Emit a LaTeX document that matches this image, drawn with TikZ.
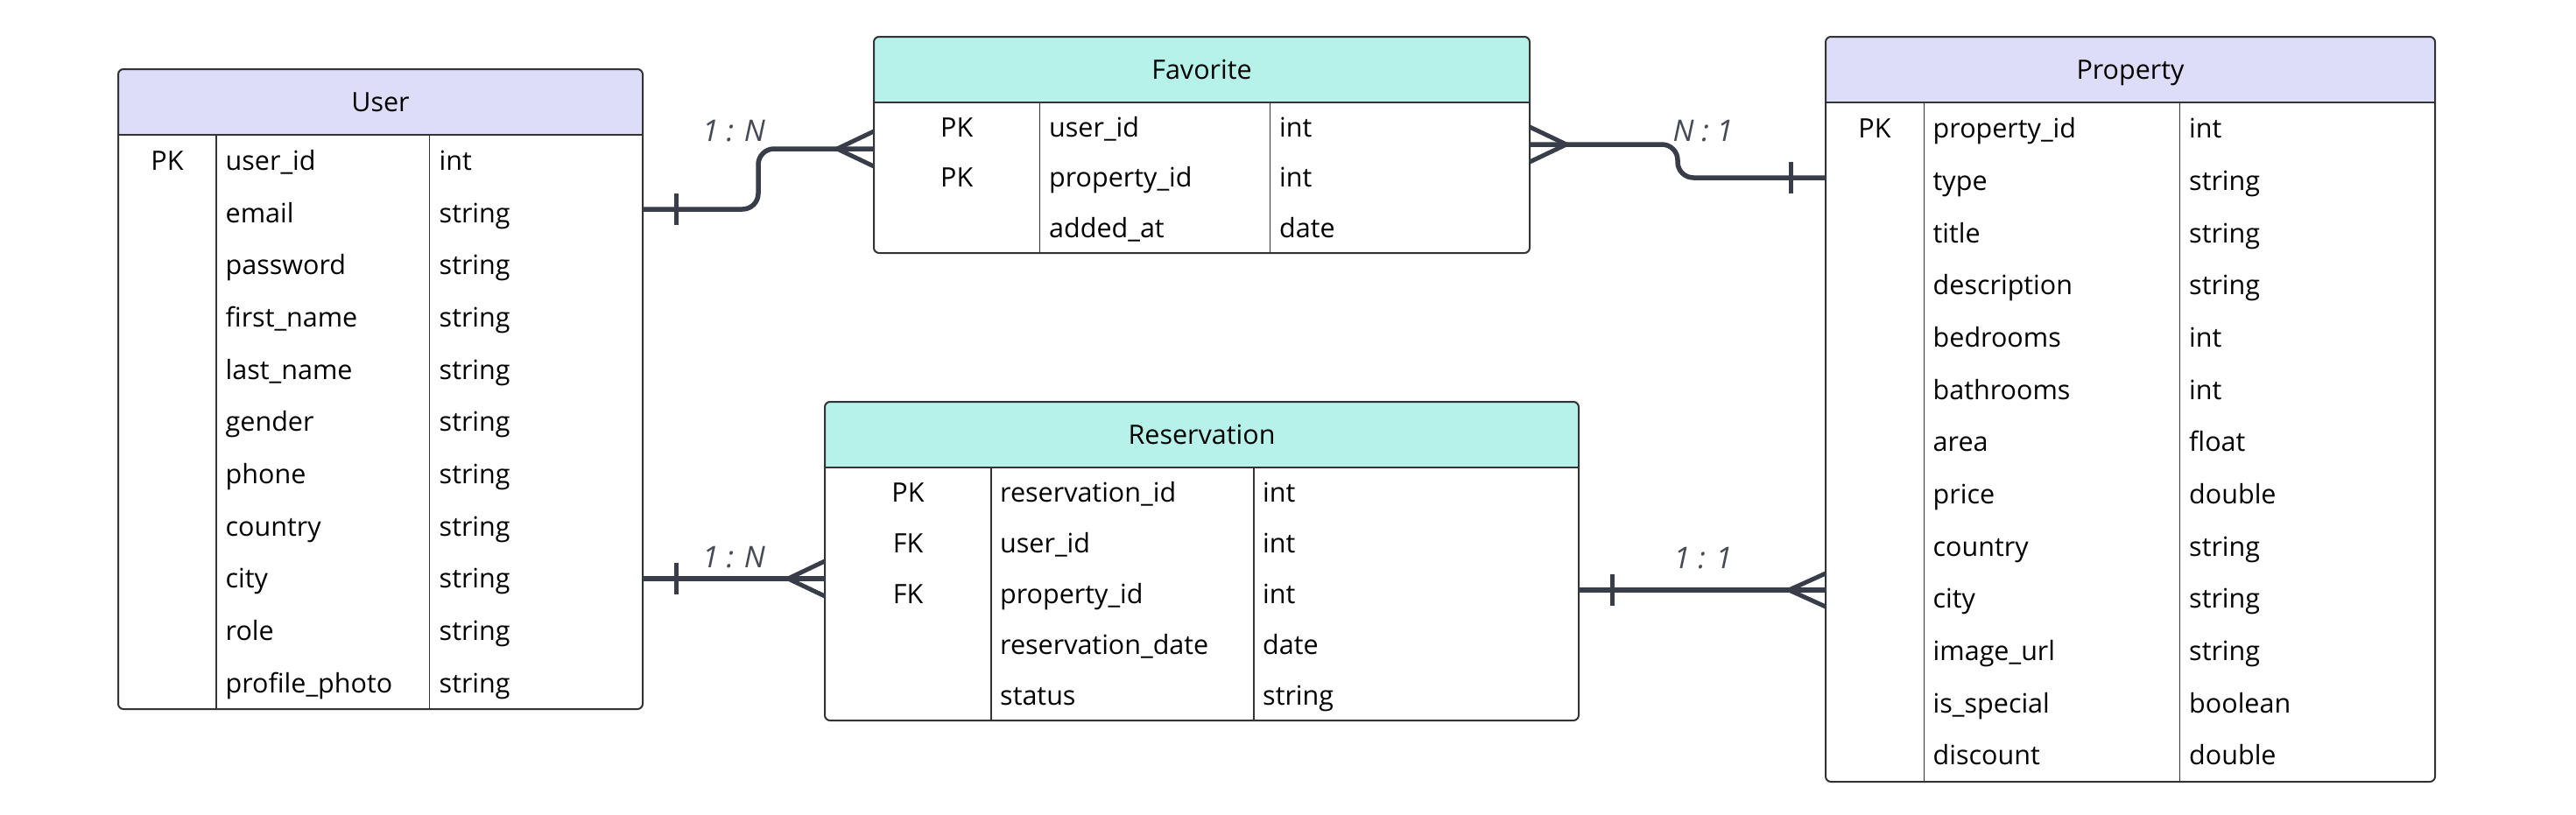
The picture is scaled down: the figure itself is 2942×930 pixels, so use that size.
\documentclass[tikz,border=0pt]{standalone}
\usepackage{fontspec}
\setmainfont{Open Sans}
\usetikzlibrary{calc}

\definecolor{headblue}{HTML}{DDDDFA}
\definecolor{headaqua}{HTML}{B6F2EA}
\definecolor{boxline}{HTML}{333333}
\definecolor{relline}{HTML}{393D4A}
\definecolor{cardtext}{HTML}{474B56}

\tikzset{
  tablebox/.style={fill=white, anchor=north west, inner sep=0pt, outer sep=0pt},
  divider/.style={draw=boxline, line width=1.6pt},
  cell/.style={font=\fontsize{30.5}{36}\selectfont, inner sep=0pt},
  rel/.style={draw=relline, line width=5.5pt, rounded corners=18pt},
  foot/.style={draw=relline, line width=5pt},
  card/.style={font=\fontsize{34}{40}\selectfont\itshape, text=cardtext, inner sep=0pt}
}

% name, header fill, header bottom, first divider, second divider
\newcommand\erframe[5]{%
  \begin{scope}
    \clip[rounded corners=6pt] (#1.north west) rectangle (#1.south east);
    \fill[#2] (#1.north west) rectangle (#1.east |- 0,#3);
  \end{scope}
  \draw[divider] (#1.west |- 0,#3) -- (#1.east |- 0,#3);
  \draw[divider] (#4,#3) -- (#4,#3 |- #1.south);
  \draw[divider] (#5,#3) -- (#5,#3 |- #1.south);
  \draw[draw=boxline, line width=2pt, rounded corners=6pt] (#1.north west) rectangle (#1.south east);
}

% name, key x, field x, type x, first baseline, pitch, rows
\newcommand\errows[7]{%
  \foreach \k/\f/\t [count=\i] in {#7} {
    \node[cell, anchor=base] (#1-key\i) at (#2,{#5+(\i-1)*#6}) {\k};
    \node[cell, anchor=base west] (#1-field\i) at (#3,{#5+(\i-1)*#6}) {\f};
    \node[cell, anchor=base west] (#1-type\i) at (#4,{#5+(\i-1)*#6}) {\t};
  }
}

\begin{document}
\begin{tikzpicture}[x=1pt, y=-1pt]
  \fill[white] (0,0) rectangle (2942,930);
  \useasboundingbox (0,0) rectangle (2942,930);

  % tables
  \node[tablebox, minimum width=599pt, minimum height=731pt] (user) at (135,79) {};
  \erframe{user}{headblue}{154}{247}{490.5}
  \node[cell, anchor=base] (user-title) at (434.5,127.4) {User};
  \errows{user}{191}{257.5}{501.5}{194.7}{59.64}{PK/user\_id/int, /email/string,
    /password/string, /first\_name/string, /last\_name/string, /gender/string,
    /phone/string, /country/string, /city/string, /role/string, /profile\_photo/string}

  \node[tablebox, minimum width=749pt, minimum height=247pt] (fav) at (998,42) {};
  \erframe{fav}{headaqua}{117}{1187.5}{1450.6}
  \node[cell, anchor=base] (fav-title) at (1372.5,90.4) {Favorite};
  \errows{fav}{1092.7}{1198}{1461}{156.6}{57.33}{PK/user\_id/int, PK/property\_id/int,
    /added\_at/date}

  \node[tablebox, minimum width=861pt, minimum height=364pt] (resv) at (942,459) {};
  \erframe{resv}{headaqua}{534}{1132}{1432}
  \node[cell, anchor=base] (resv-title) at (1372.5,507.4) {Reservation};
  \errows{resv}{1037}{1142}{1442}{573.8}{57.8}{PK/reservation\_id/int, FK/user\_id/int,
    FK/property\_id/int, /reservation\_date/date, /status/string}

  \node[tablebox, minimum width=696pt, minimum height=851pt] (prop) at (2085,42) {};
  \erframe{prop}{headblue}{117}{2197.5}{2489.5}
  \node[cell, anchor=base] (prop-title) at (2433,90.4) {Property};
  \errows{prop}{2141}{2207.5}{2500}{157.7}{59.69}{PK/property\_id/int, /type/string,
    /title/string, /description/string, /bedrooms/int, /bathrooms/int, /area/float,
    /price/double, /country/string, /city/string, /image\_url/string,
    /is\_special/boolean, /discount/double}

  % user -- favorite
  \draw[rel] (user.east |- 0,239) -- ++(132,0) |- (fav.west |- 0,170);
  \draw[foot] ($(user.east |- 0,239)+(38,-18)$) -- ++(0,36);
  \draw[foot] ($(fav.west |- 0,170)+(0,-20)$) -- ++(-42,20) -- ++(42,20);
  \node[card] (card-uf) at (838,150) {1 : N};

  % favorite -- property
  \draw[rel] (fav.east |- 0,165) -- ++(169,0) |- (prop.west |- 0,203);
  \draw[foot] ($(fav.east |- 0,165)+(0,-20)$) -- ++(42,20) -- ++(-42,20);
  \draw[foot] ($(prop.west |- 0,203)+(-40,-18)$) -- ++(0,36);
  \node[card] (card-fp) at (1945,150) {N : 1};

  % user -- reservation
  \draw[rel] (user.east |- 0,661) -- (resv.west |- 0,661);
  \draw[foot] ($(user.east |- 0,661)+(38,-18)$) -- ++(0,36);
  \draw[foot] ($(resv.west |- 0,661)+(0,-20)$) -- ++(-42,20) -- ++(42,20);
  \node[card] (card-ur) at (838,637) {1 : N};

  % reservation -- property
  \draw[rel] (resv.east |- 0,674) -- (prop.west |- 0,674);
  \draw[foot] ($(resv.east |- 0,674)+(38,-18)$) -- ++(0,36);
  \draw[foot] ($(prop.west |- 0,674)+(0,-19)$) -- ++(-42,19) -- ++(42,19);
  \node[card] (card-rp) at (1945,638) {1 : 1};
\end{tikzpicture}
\end{document}
